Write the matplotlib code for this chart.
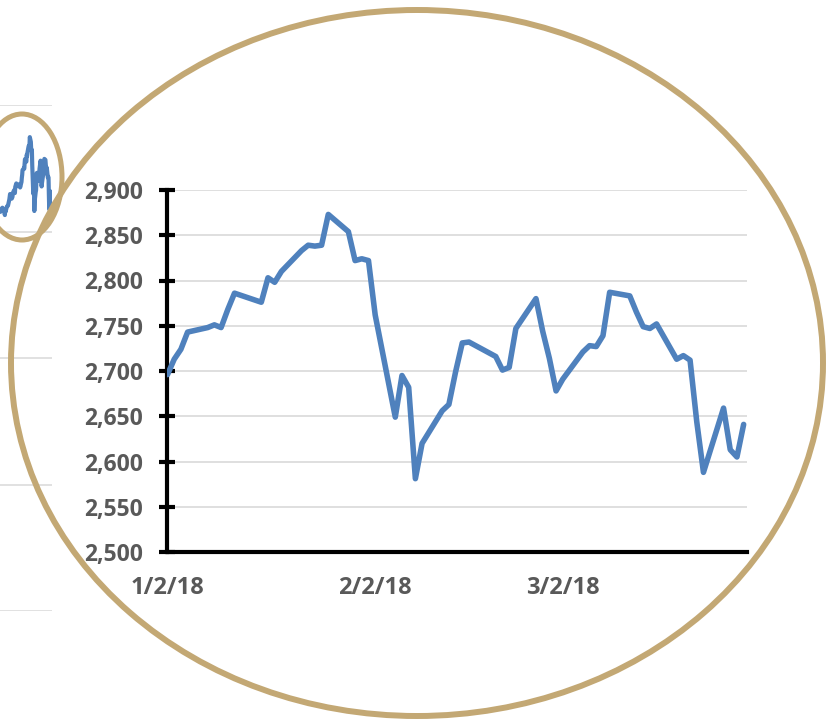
import datetime as dt
import matplotlib
matplotlib.use("Agg")
import matplotlib.pyplot as plt
import matplotlib.dates as mdates
from matplotlib.patches import Ellipse

plt.rcParams["font.family"] = ["Open Sans", "DejaVu Sans"]

# S&P 500 daily closes, Q1 2018 (zoomed view)
q1_dates = [
    "2018-01-02", "2018-01-03", "2018-01-04", "2018-01-05", "2018-01-08", "2018-01-09",
    "2018-01-10", "2018-01-11", "2018-01-12", "2018-01-16", "2018-01-17", "2018-01-18",
    "2018-01-19", "2018-01-22", "2018-01-23", "2018-01-24", "2018-01-25", "2018-01-26",
    "2018-01-29", "2018-01-30", "2018-01-31", "2018-02-01", "2018-02-02", "2018-02-05",
    "2018-02-06", "2018-02-07", "2018-02-08", "2018-02-09", "2018-02-12", "2018-02-13",
    "2018-02-14", "2018-02-15", "2018-02-16", "2018-02-20", "2018-02-21", "2018-02-22",
    "2018-02-23", "2018-02-26", "2018-02-27", "2018-02-28", "2018-03-01", "2018-03-02",
    "2018-03-05", "2018-03-06", "2018-03-07", "2018-03-08", "2018-03-09", "2018-03-12",
    "2018-03-13", "2018-03-14", "2018-03-15", "2018-03-16", "2018-03-19", "2018-03-20",
    "2018-03-21", "2018-03-22", "2018-03-23", "2018-03-26", "2018-03-27", "2018-03-28",
    "2018-03-29",
]
q1_close = [
    2696, 2713, 2724, 2743, 2748, 2751, 2748, 2768, 2786, 2776, 2803, 2798,
    2810, 2833, 2839, 2838, 2839, 2873, 2854, 2822, 2824, 2822, 2762, 2649,
    2695, 2682, 2581, 2620, 2656, 2663, 2699, 2731, 2732, 2716, 2701, 2704,
    2747, 2780, 2744, 2714, 2678, 2691, 2721, 2728, 2727, 2739, 2787, 2783,
    2765, 2749, 2747, 2752, 2713, 2717, 2712, 2644, 2588, 2659, 2613, 2605,
    2641,
]

# Late-2017 closes shown only in the small overview chart
late2017_dates = [
    "2017-11-01", "2017-11-03", "2017-11-06", "2017-11-08", "2017-11-10", "2017-11-13",
    "2017-11-15", "2017-11-16", "2017-11-17", "2017-11-21", "2017-11-24", "2017-11-28",
    "2017-11-30", "2017-12-01", "2017-12-05", "2017-12-07", "2017-12-08", "2017-12-12",
    "2017-12-14", "2017-12-15", "2017-12-18", "2017-12-20", "2017-12-22", "2017-12-27",
    "2017-12-28", "2017-12-29",
]
late2017_close = [
    2579, 2587, 2591, 2594, 2582, 2584, 2565, 2585, 2578, 2599, 2602, 2627,
    2648, 2642, 2630, 2637, 2652, 2664, 2652, 2676, 2690, 2679, 2683, 2682,
    2688, 2674,
]

y_ticks = [2500, 2550, 2600, 2650, 2700, 2750, 2800, 2850, 2900]
x_tick_dates = ["2018-01-02", "2018-02-02", "2018-03-02"]
x_tick_labels = ["1/2/18", "2/2/18", "3/2/18"]
overview_ticks = [1000, 1500, 2000, 2500, 3000]


def to_dates(items):
    return [dt.datetime.strptime(s, "%Y-%m-%d") for s in items]


W, H = 828, 723
fig = plt.figure(figsize=(W / 100, H / 100), dpi=100)
fig.patch.set_facecolor("white")

line_blue = "#4F81BD"
grid_grey = "#D9D9D9"
label_grey = "#595959"
gold = "#C3A874"


def px_axes(x0, y0, x1, y1, **kw):
    return fig.add_axes([x0 / W, 1 - y1 / H, (x1 - x0) / W, (y1 - y0) / H], **kw)


# Small overview chart (background, top-left)
ov = px_axes(0, 105, 52, 611)
ov_dates = to_dates(late2017_dates) + to_dates(q1_dates)
ov_vals = late2017_close + q1_close
ov.plot(ov_dates, ov_vals, color=line_blue, lw=3.0, solid_joinstyle="round")
ov.set_ylim(1000, 3000)
ov.set_xlim(mdates.date2num(dt.datetime(2017, 11, 1)),
            mdates.date2num(dt.datetime(2018, 3, 31)))
ov.set_yticks(overview_ticks)
ov.grid(axis="y", color=grid_grey, lw=1.1)
ov.tick_params(left=False, bottom=False, labelleft=False, labelbottom=False)
for s in ov.spines.values():
    s.set_visible(False)
ov.set_axisbelow(True)

# Main zoomed chart
ax = px_axes(167.5, 190, 747, 552)
ax.plot(to_dates(q1_dates), q1_close, color=line_blue, lw=4.0,
        solid_joinstyle="round", solid_capstyle="round", zorder=3)
x0 = mdates.date2num(dt.datetime(2018, 1, 2))
ax.set_xlim(x0, x0 + 86.5)
ax.set_ylim(2500, 2900)
ax.set_yticks(y_ticks)
ax.set_yticklabels([f"{v:,}" for v in y_ticks])
ax.set_xticks(to_dates(x_tick_dates))
ax.set_xticklabels(x_tick_labels)
ax.grid(axis="y", color=grid_grey, lw=1.2, zorder=0)
ax.set_axisbelow(True)
for side in ("top", "right"):
    ax.spines[side].set_visible(False)
for side in ("left", "bottom"):
    ax.spines[side].set_linewidth(3.0)
    ax.spines[side].set_color("black")
ax.tick_params(axis="y", direction="inout", length=11, width=3.0, color="black",
               pad=12, labelsize=16.5, labelcolor=label_grey)
ax.tick_params(axis="x", length=0, pad=17, labelsize=17, labelcolor=label_grey)
for lab in ax.get_yticklabels() + ax.get_xticklabels():
    lab.set_fontweight("bold")

# Magnifier outlines
ov_layer = fig.add_axes([0, 0, 1, 1], facecolor="none")
ov_layer.set_xlim(0, W)
ov_layer.set_ylim(H, 0)
ov_layer.axis("off")
ov_layer.add_patch(Ellipse((22, 177), 80, 126, fill=False, ec=gold, lw=3.6))
ov_layer.add_patch(Ellipse((417, 363), 812, 706, fill=False, ec=gold, lw=4.3))

fig.savefig("out.png", dpi=100, facecolor="white")
